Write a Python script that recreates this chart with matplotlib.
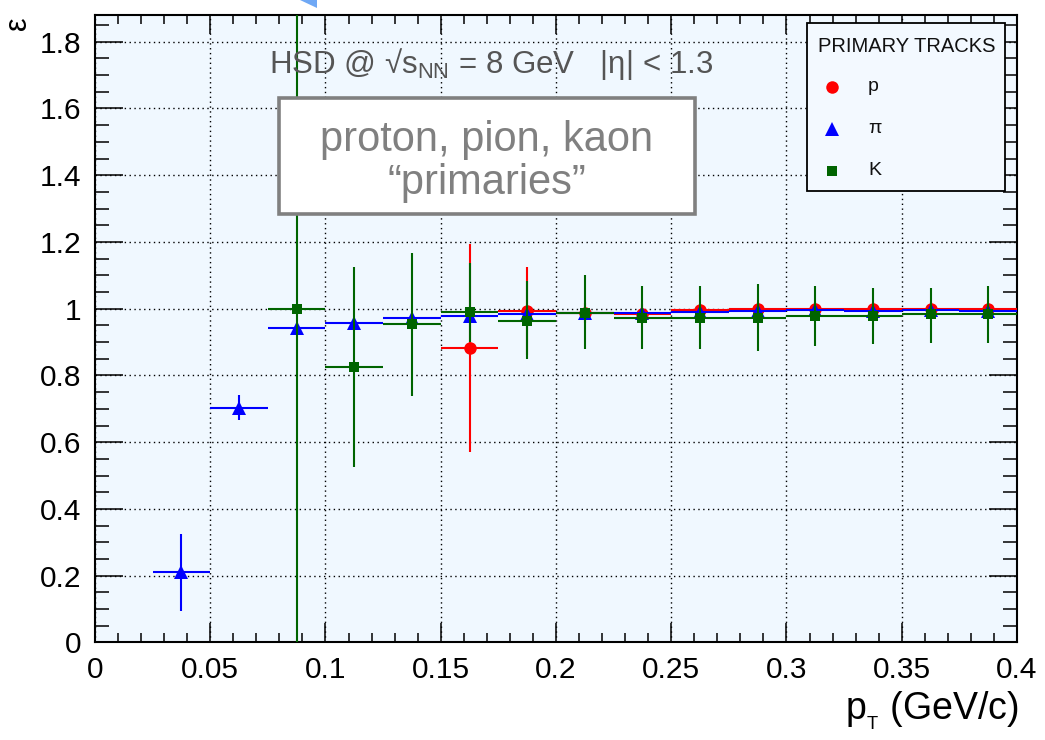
import matplotlib
matplotlib.use("Agg")
import matplotlib.pyplot as plt
from matplotlib.patches import Rectangle, Polygon
from matplotlib.ticker import MultipleLocator, FixedLocator
import numpy as np

# ---------------- data ----------------
half_bin = 0.0125

pion_pt = [0.0375, 0.0625, 0.0875, 0.1125, 0.1375, 0.1625, 0.1875, 0.2125,
           0.2375, 0.2625, 0.2875, 0.3125, 0.3375, 0.3625, 0.3875]
pion_eff = [0.21, 0.703, 0.941, 0.957, 0.972, 0.978, 0.983, 0.986,
            0.988, 0.991, 0.993, 0.996, 0.993, 0.996, 0.993]
pion_err_lo = [0.115, 0.037, 0.01, 0.01, 0.01, 0.01, 0.01, 0.01,
               0.01, 0.01, 0.01, 0.01, 0.01, 0.01, 0.01]
pion_err_hi = [0.116, 0.037, 0.01, 0.01, 0.01, 0.01, 0.01, 0.01,
               0.01, 0.01, 0.01, 0.01, 0.01, 0.01, 0.01]

kaon_pt = [0.0875, 0.1125, 0.1375, 0.1625, 0.1875, 0.2125, 0.2375,
           0.2625, 0.2875, 0.3125, 0.3375, 0.3625, 0.3875]
kaon_eff = [1.0, 0.825, 0.953, 0.99, 0.963, 0.988, 0.973,
            0.973, 0.973, 0.978, 0.978, 0.983, 0.983]
kaon_err_lo = [1.0, 0.30, 0.215, 0.09, 0.115, 0.11, 0.095,
               0.095, 0.10, 0.09, 0.085, 0.085, 0.085]
kaon_err_hi = [1.0, 0.30, 0.215, 0.148, 0.12, 0.112, 0.095,
               0.095, 0.10, 0.09, 0.085, 0.08, 0.085]

proton_pt = [0.1625, 0.1875, 0.2125, 0.2375, 0.2625, 0.2875, 0.3125,
             0.3375, 0.3625, 0.3875]
proton_eff = [0.883, 0.993, 0.986, 0.985, 0.995, 1.0, 1.0, 1.0, 1.0, 0.998]
proton_err_lo = [0.313, 0.133, 0.03, 0.03, 0.02, 0.02, 0.02, 0.02, 0.02, 0.02]
proton_err_hi = [0.31, 0.133, 0.03, 0.03, 0.02, 0.02, 0.02, 0.02, 0.02, 0.02]

x_ticks = [0, 0.05, 0.1, 0.15, 0.2, 0.25, 0.3, 0.35, 0.4]
x_ticklabels = ["0", "0.05", "0.1", "0.15", "0.2", "0.25", "0.3", "0.35", "0.4"]
y_ticks = [0, 0.2, 0.4, 0.6, 0.8, 1.0, 1.2, 1.4, 1.6, 1.8]
y_ticklabels = ["0", "0.2", "0.4", "0.6", "0.8", "1", "1.2", "1.4", "1.6", "1.8"]

legend_title = "PRIMARY TRACKS"
legend_labels = ["p", "π", "K"]
header_text = r"HSD @ √s$_{\mathrm{NN}}$ = 8 GeV   |η| < 1.3"
box_text = "proton, pion, kaon\n“primaries”"

# ---------------- style ----------------
plt.rcParams['font.family'] = ['Liberation Sans', 'DejaVu Sans']
plt.rcParams['mathtext.fontset'] = 'custom'
plt.rcParams['mathtext.rm'] = 'Liberation Sans'
plt.rcParams['mathtext.it'] = 'Liberation Sans:italic'

RED = '#FF0000'
BLUE = '#0000FF'
GREEN = '#006400'
BG = '#F0F8FF'

fig = plt.figure(figsize=(10.45, 7.40), dpi=100)
ax = fig.add_axes([0.0909, 0.1318, 0.8823, 0.8484])
ax.set_facecolor(BG)

ax.set_xlim(0, 0.4)
ax.set_ylim(0, 1.881)

ax.xaxis.set_major_locator(FixedLocator(x_ticks))
ax.set_xticklabels(x_ticklabels)
ax.xaxis.set_minor_locator(MultipleLocator(0.01))
ax.yaxis.set_major_locator(FixedLocator(y_ticks))
ax.set_yticklabels(y_ticklabels)
ax.yaxis.set_minor_locator(MultipleLocator(0.05))

ax.tick_params(axis='both', which='both', direction='in', top=True, right=True,
               width=1.1, color='black')
ax.tick_params(axis='x', which='major', length=13.7, pad=10, labelsize=21.5)
ax.tick_params(axis='x', which='minor', length=6.8)
ax.tick_params(axis='y', which='major', length=20, pad=10, labelsize=21.5)
ax.tick_params(axis='y', which='minor', length=10)

for sp in ax.spines.values():
    sp.set_linewidth(1.5)

ax.grid(True, which='major', color='black', linestyle=(0, (1, 2.5)), linewidth=1.0)
ax.set_axisbelow(True)

# ---------------- data series ----------------
ekw = dict(linestyle='none', elinewidth=1.5, capsize=0, markeredgewidth=0)
ax.errorbar(proton_pt, proton_eff, xerr=half_bin,
            yerr=[proton_err_lo, proton_err_hi], fmt='o', color=RED,
            markersize=9, zorder=3, **ekw)
ax.errorbar(pion_pt, pion_eff, xerr=half_bin,
            yerr=[pion_err_lo, pion_err_hi], fmt='^', color=BLUE,
            markersize=9.5, zorder=4, **ekw)
ax.errorbar(kaon_pt, kaon_eff, xerr=half_bin,
            yerr=[kaon_err_lo, kaon_err_hi], fmt='s', color=GREEN,
            markersize=7.6, zorder=5, **ekw)

# ---------------- annotations ----------------
ax.text(0.4295, 0.922, header_text, transform=ax.transAxes, ha='center',
        va='center', fontsize=22.5, color='#555555', zorder=6)

ax.add_patch(Rectangle((0.1996, 0.6825), 0.6508 - 0.1996, 0.8673 - 0.6825,
                       transform=ax.transAxes, facecolor='white',
                       edgecolor='#808080', linewidth=2.6, zorder=7))
ax.text(0.425, 0.766, box_text, transform=ax.transAxes, ha='center',
        va='center', fontsize=30, color='#808080', linespacing=1.08, zorder=8)

# legend box
ax.add_patch(Rectangle((0.7722, 0.7192), 0.987 - 0.7722, 0.9868 - 0.7192,
                       transform=ax.transAxes, facecolor='#F3F9FF',
                       edgecolor='black', linewidth=1.3, zorder=9))
ax.text(0.880, 0.950, legend_title, transform=ax.transAxes, ha='center',
        va='center', fontsize=14.5, color='#111111', zorder=10)
leg_rows = [0.8849, 0.818, 0.751]
leg_markers = [('o', RED, 9), ('^', BLUE, 9.5), ('s', GREEN, 7.6)]
for yr, (mk, col, ms), lab in zip(leg_rows, leg_markers, legend_labels):
    ax.plot([0.7993], [yr], marker=mk, color=col, markersize=ms,
            markeredgewidth=0, transform=ax.transAxes, clip_on=False, zorder=10)
    ax.text(0.8384, yr, lab, transform=ax.transAxes, ha='left', va='center',
            fontsize=14, color='#111111', zorder=10)

# axis titles
fig.text(0.0172, 0.968, "ε", rotation=90, ha='center', va='center', fontsize=22)
fig.text(0.975, 0.040, r"p$_{_{\mathrm{T}}}$ (GeV/c)", ha='right', va='center',
         fontsize=27)

# small blue wedge artifact at top
fig.patches.append(Polygon([(300 / 1045, 1.0), (317 / 1045, 1.0), (317 / 1045, 1 - 8 / 740)],
                           closed=True, transform=fig.transFigure,
                           facecolor='#6FA8F5', edgecolor='none'))

fig.savefig("out.png", dpi=100)
